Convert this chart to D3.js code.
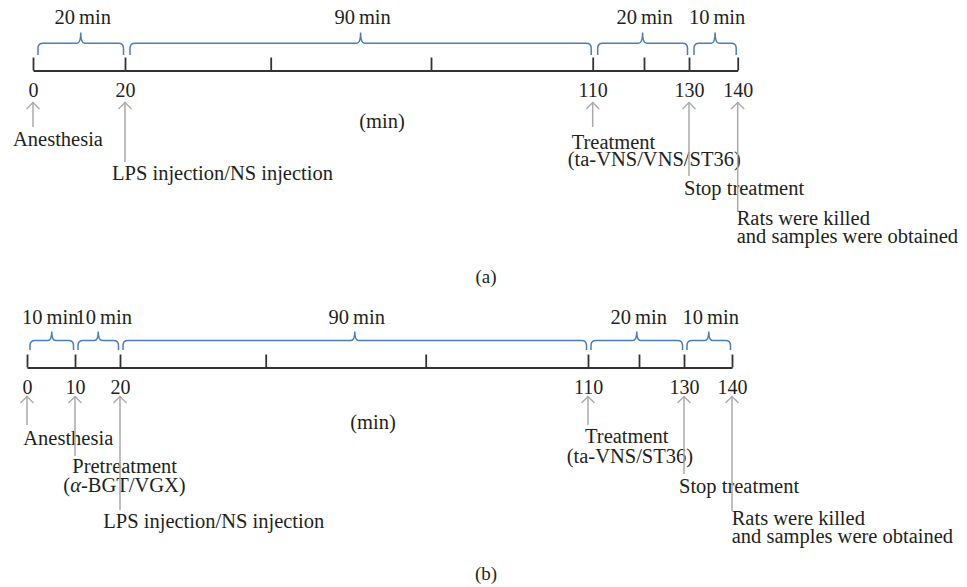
<!DOCTYPE html>
<html>
<head>
<meta charset="utf-8">
<script src="https://d3js.org/d3.v7.min.js"></script>
<style>
  body { margin: 0; background: #fff; }
  text { font-family: "Liberation Serif", "DejaVu Serif", serif; fill: #231f20; }
</style>
</head>
<body>
<svg id="chart"></svg>
<script>
// ---- panel (a) ----
const ticksA = [0, 20, 50, 80, 110, 120, 130, 140];
const tickLabelsA = [0, 20, 110, 130, 140];
const spanStartsA = [0, 20, 110, 130];
const spanEndsA = [20, 110, 130, 140];
const spanMinutesA = [20, 90, 20, 10];
const eventMinutesA = [0, 20, 110, 130, 140];
const eventTextA = [
  ["Anesthesia"],
  ["LPS injection/NS injection"],
  ["Treatment", "(ta-VNS/VNS/ST36)"],
  ["Stop treatment"],
  ["Rats were killed", "and samples were obtained"]
];

// ---- panel (b) ----
const ticksB = [0, 10, 20, 50, 80, 110, 120, 130, 140];
const tickLabelsB = [0, 10, 20, 110, 130, 140];
const spanStartsB = [0, 10, 20, 110, 130];
const spanEndsB = [10, 20, 110, 130, 140];
const spanMinutesB = [10, 10, 90, 20, 10];
const eventMinutesB = [0, 10, 20, 110, 130, 140];
const eventTextB = [
  ["Anesthesia"],
  ["Pretreatment", "(α-BGT/VGX)"],
  ["LPS injection/NS injection"],
  ["Treatment", "(ta-VNS/ST36)"],
  ["Stop treatment"],
  ["Rats were killed", "and samples were obtained"]
];

const svg = d3.select("#chart").attr("width", 967).attr("height", 587);

const axisColor = "#333";
const braceColor = "#4a7ebb";
const arrowColor = "#aaa";

function bracePath(x0, x1, xm, yH, yEnd, yPeak) {
  const r = 5, c = 4;
  return `M${x0},${yEnd} L${x0},${yH + r} Q${x0},${yH} ${x0 + r},${yH} ` +
    `L${xm - c},${yH} Q${xm},${yH} ${xm},${yPeak} Q${xm},${yH} ${xm + c},${yH} ` +
    `L${x1 - r},${yH} Q${x1},${yH} ${x1},${yH + r} L${x1},${yEnd}`;
}

function drawPanel(p) {
  // piecewise scale: the original drawing is not evenly spaced
  const x = d3.scaleLinear().domain(p.ticks).range(p.tickX);
  const g = svg.append("g");

  // axis line with ticks pointing up
  g.append("g")
    .attr("transform", `translate(0,${p.axisY})`)
    .call(d3.axisTop(x).tickValues(p.ticks).tickSize(13).tickSizeOuter(0).tickFormat(""))
    .call(a => a.selectAll("path, line").attr("stroke", axisColor).attr("stroke-width", 1.8));

  // minute labels under the axis
  g.append("g")
    .attr("transform", `translate(0,${p.axisY})`)
    .call(d3.axisBottom(x).tickValues(p.tickLabels).tickSize(0).tickPadding(12))
    .call(a => a.select(".domain").remove())
    .call(a => a.selectAll("text").style("font-size", "20px"));

  // braces
  g.selectAll(".brace")
    .data(p.starts)
    .join("path")
    .attr("fill", "none")
    .attr("stroke", braceColor)
    .attr("stroke-width", 1.5)
    .attr("d", (s, i) => {
      const x0 = x(s) + p.braceIn, x1 = x(p.ends[i]) - 1.5;
      return bracePath(x0, x1, (x0 + x1) / 2, p.braceY, p.braceEnd, p.bracePeak);
    });

  // brace labels, pushed apart when they collide
  const labels = g.selectAll(".span-label")
    .data(p.minutes)
    .join("text")
    .attr("y", p.spanLabelY)
    .style("font-size", "20.5px");
  labels.append("tspan").text(d => d);
  labels.append("tspan").attr("dx", 4).text("min");
  const boxes = [];
  labels.each(function (d, i) {
    const w = this.getComputedTextLength();
    const cx = (x(p.starts[i]) + p.braceIn + x(p.ends[i]) - 1.5) / 2;
    boxes.push({ cx: cx, w: w });
  });
  for (let i = 0; i < boxes.length - 1; i++) {
    const a = boxes[i], b = boxes[i + 1];
    const overlap = (a.cx + a.w / 2) - (b.cx - b.w / 2) + 1;
    if (overlap > 0) { a.cx -= overlap / 2; b.cx += overlap / 2; }
  }
  labels.attr("x", (d, i) => boxes[i].cx - boxes[i].w / 2);

  // event arrows
  p.events.forEach((m, i) => {
    const ex = x(m);
    g.append("line")
      .attr("x1", ex).attr("x2", ex)
      .attr("y1", p.arrowTip).attr("y2", p.arrowBottom[i])
      .attr("stroke", arrowColor).attr("stroke-width", 1.5);
    g.append("path")
      .attr("d", `M${ex - 6.5},${p.arrowTip + 7} L${ex},${p.arrowTip + 0.5} L${ex + 6.5},${p.arrowTip + 7}`)
      .attr("fill", "none").attr("stroke", arrowColor).attr("stroke-width", 1.3);

    p.eventText[i].forEach((line, j) => {
      const t = g.append("text")
        .attr("x", ex + p.labelDx[i][j])
        .attr("y", p.labelY[i][j])
        .style("font-size", "20.5px");
      line.split(/(α)/).filter(s => s.length).forEach(part => {
        t.append("tspan").style("font-style", part === "α" ? "italic" : null).text(part);
      });
    });
  });

  g.append("text")
    .attr("x", p.unitX).attr("y", p.unitY)
    .attr("text-anchor", "middle")
    .style("font-size", "20.5px")
    .text("(min)");

  g.append("text")
    .attr("x", 486).attr("y", p.captionY)
    .attr("text-anchor", "middle")
    .style("font-size", "19px")
    .text(p.caption);
}

drawPanel({
  ticks: ticksA, tickX: [33, 125, 270.7, 431, 592.7, 644, 689, 737.7],
  tickLabels: tickLabelsA,
  starts: spanStartsA, ends: spanEndsA, minutes: spanMinutesA,
  events: eventMinutesA, eventText: eventTextA,
  axisY: 70.5, braceY: 43.3, braceEnd: 55, bracePeak: 32.5, braceIn: 5, spanLabelY: 24,
  arrowTip: 102, arrowBottom: [127, 162, 127, 176, 211],
  labelDx: [[-20], [-13], [-21, -25], [-5], [-1, -1]],
  labelY: [[146], [180], [149, 166], [195], [225, 243]],
  unitX: 382, unitY: 128, captionY: 283, caption: "(a)"
});

drawPanel({
  ticks: ticksB, tickX: [27, 75, 120, 265.7, 425.7, 588, 639, 684, 732],
  tickLabels: tickLabelsB,
  starts: spanStartsB, ends: spanEndsB, minutes: spanMinutesB,
  events: eventMinutesB, eventText: eventTextB,
  axisY: 367.5, braceY: 340.5, braceEnd: 350, bracePeak: 331.5, braceIn: 3, spanLabelY: 324,
  arrowTip: 396, arrowBottom: [425, 456, 510, 425, 474, 511],
  labelDx: [[-3.7], [-2.7, -11.7], [-16.7], [-3, -21.3], [-5], [-0.3, -0.3]],
  labelY: [[445], [473, 492], [528], [443, 463], [493], [525, 543]],
  unitX: 373, unitY: 429, captionY: 580, caption: "(b)"
});
</script>
</body>
</html>
